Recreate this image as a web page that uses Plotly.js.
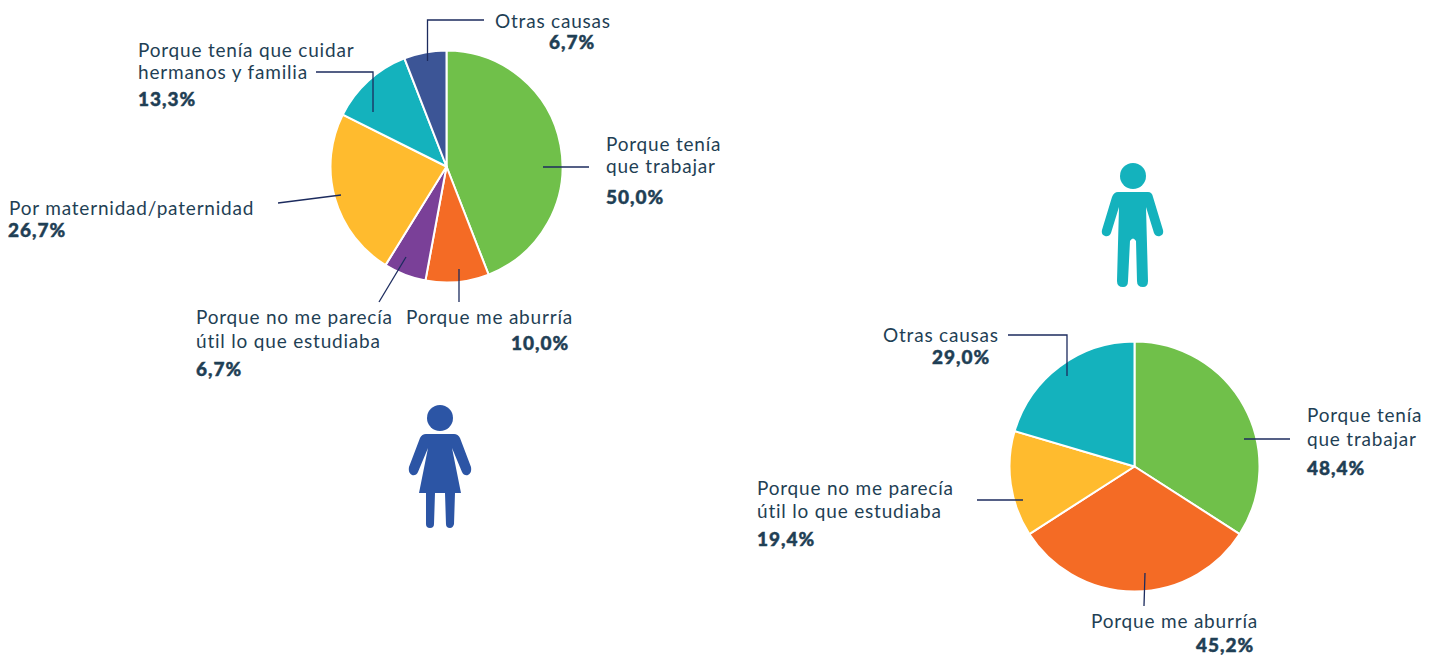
<!DOCTYPE html>
<html>
<head>
<meta charset="utf-8">
<script src="https://cdn.plot.ly/plotly-3.0.1.min.js"></script>
<style>html,body{margin:0;padding:0;background:#fff}#chart{width:1438px;height:655px}
.annotation-text{letter-spacing:.8px}
.annotation-text tspan[style*="bold"]{letter-spacing:1px;font-weight:900 !important;stroke:#1f3f55;stroke-width:.45px}
</style>
</head>
<body>
<div id="chart"></div>
<script>
const womenCategories = ["Porque tenía que trabajar","Porque me aburría","Porque no me parecía útil lo que estudiaba","Por maternidad/paternidad","Porque tenía que cuidar hermanos y familia","Otras causas"];
const womenValues = [50.0,10.0,6.7,26.7,13.3,6.7];
const womenColors = ["#70c04a","#f46b25","#7a4098","#ffbb2e","#14b2bd","#3c5596"];
const menCategories = ["Porque tenía que trabajar","Porque me aburría","Porque no me parecía útil lo que estudiaba","Otras causas"];
const menValues = [48.4,45.2,19.4,29.0];
const menColors = ["#70c04a","#f46b25","#ffbb2e","#14b2bd"];

const W=1438,H=655;
const INK="#1f3f55", LEAD="#1c2b5e", WOMAN="#2c55a5", MAN="#14b2bd";
const px=x=>x/W, py=y=>1-y/H;
const fmt=v=>v.toFixed(1).replace('.',',')+'%';

function pie(cats,vals,cols,x0,x1,y0,y1){
  return {type:'pie',labels:cats,values:vals,sort:false,direction:'clockwise',rotation:0,
    textinfo:'none',hoverinfo:'label+value',showlegend:false,
    marker:{colors:cols,line:{color:'#ffffff',width:2}},
    domain:{x:[px(x0),px(x1)],y:[py(y1),py(y0)]}};
}
const data=[pie(womenCategories,womenValues,womenColors,330.5,562.5,50.5,282.5),
            pie(menCategories,menValues,menColors,1009.5,1259.5,341.5,591.5)];

function note(text,x,y,bold){
  return {text:bold?'<b>'+text+'</b>':text,xref:'paper',yref:'paper',x:px(x),y:py(y),
    xanchor:'left',yanchor:'middle',showarrow:false,borderpad:0,
    font:{family:'Lato, sans-serif',size:19,color:INK}};
}
const annotations=[
  note("Otras causas",494,20.5), note(fmt(womenValues[5]),548,41.5,true),
  note("Porque tenía que cuidar",137,49), note("hermanos y familia",137,72), note(fmt(womenValues[4]),137,98,true),
  note("Porque tenía",605,143), note("que trabajar",605,166), note(fmt(womenValues[0]),605,196,true),
  note("Por maternidad/paternidad",8,207), note(fmt(womenValues[3]),7,230,true),
  note("Porque no me parecía",195,317), note("útil lo que estudiaba",195,340), note(fmt(womenValues[2]),195,368,true),
  note("Porque me aburría",405,316), note(fmt(womenValues[1]),510,342,true),
  note("Otras causas",882,334), note(fmt(menValues[3]),931,356,true),
  note("Porque tenía",1306,415), note("que trabajar",1306,438), note(fmt(menValues[0]),1306,468,true),
  note("Porque no me parecía",756,487), note("útil lo que estudiaba",756,510), note(fmt(menValues[2]),756,538,true),
  note("Porque me aburría",1090,620), note(fmt(menValues[1]),1195,644.5,true)
];

function poly(pts,opts){
  let d=pts.map((p,i)=>(i?'L':'M')+px(p[0]).toFixed(5)+','+py(p[1]).toFixed(5)).join(' ');
  return Object.assign({type:'path',xref:'paper',yref:'paper',path:d},opts);
}
const lead=pts=>poly(pts,{line:{color:LEAD,width:1.3}});
function fill(cmds,color){
  const d=cmds.map(c=>{
    const n=c.slice(1);let s=c[0];
    for(let i=0;i<n.length;i+=2){s+=(i?' ':'')+px(n[i]).toFixed(5)+','+py(n[i+1]).toFixed(5);}
    return s;}).join(' ')+' Z';
  return {type:'path',xref:'paper',yref:'paper',path:d,fillcolor:color,line:{width:0}};
}
function head(cx,cy,r,color){
  return {type:'circle',xref:'paper',yref:'paper',x0:px(cx-r),x1:px(cx+r),y0:py(cy+r),y1:py(cy-r),fillcolor:color,line:{width:0}};
}
const shapes=[
  lead([[484,20],[427.5,20],[427.5,61]]),
  lead([[316,72],[373,72],[373,112]]),
  lead([[543,167],[589,167]]),
  lead([[278,203],[341,195]]),
  lead([[406,257],[379,302]]),
  lead([[459,269],[459,302]]),
  lead([[1008,335],[1067,335],[1067,376]]),
  lead([[1244,439],[1290,439]]),
  lead([[977,500],[1023,500]]),
  lead([[1145,573],[1144,606]]),
  head(440,418,13,WOMAN),
  fill([['M',426,434],['L',454,434],['Q',458,434,460,438],['L',471,467],['Q',472,473,468,475],['Q',464,476,462,472],
        ['L',452,448],['L',461,493],['L',455,493],['L',454,524],['Q',453,528,450,528],['Q',446,528,446,524],['L',445,493],
        ['L',435,493],['L',434,524],['Q',434,528,430,528],['Q',426,528,426,524],['L',426,493],['L',419,493],['L',428,448],
        ['L',418,472],['Q',416,476,412,475],['Q',408,473,409,467],['L',420,438],['Q',422,434,426,434]],WOMAN),
  head(1133,176,13,MAN),
  fill([['M',1118,192],['L',1148,192],['Q',1152,192,1153,197],['L',1163,230],['Q',1164,235,1160,236],['Q',1156,237,1154,233],
        ['L',1146,207],['L',1148,281],['Q',1148,287,1143,287],['Q',1137,287,1137,281],['L',1136,241],['Q',1133,236,1130,241],
        ['L',1128,281],['Q',1128,287,1123,287],['Q',1117,287,1117,281],['L',1119,207],['L',1111,233],['Q',1109,237,1105,236],
        ['Q',1101,235,1102,230],['L',1112,197],['Q',1114,192,1118,192]],MAN)
];

Plotly.newPlot('chart',data,{width:W,height:H,margin:{l:0,r:0,t:0,b:0},paper_bgcolor:'#fff',
  annotations,shapes,showlegend:false},{displayModeBar:false,responsive:false});
</script>
</body>
</html>
